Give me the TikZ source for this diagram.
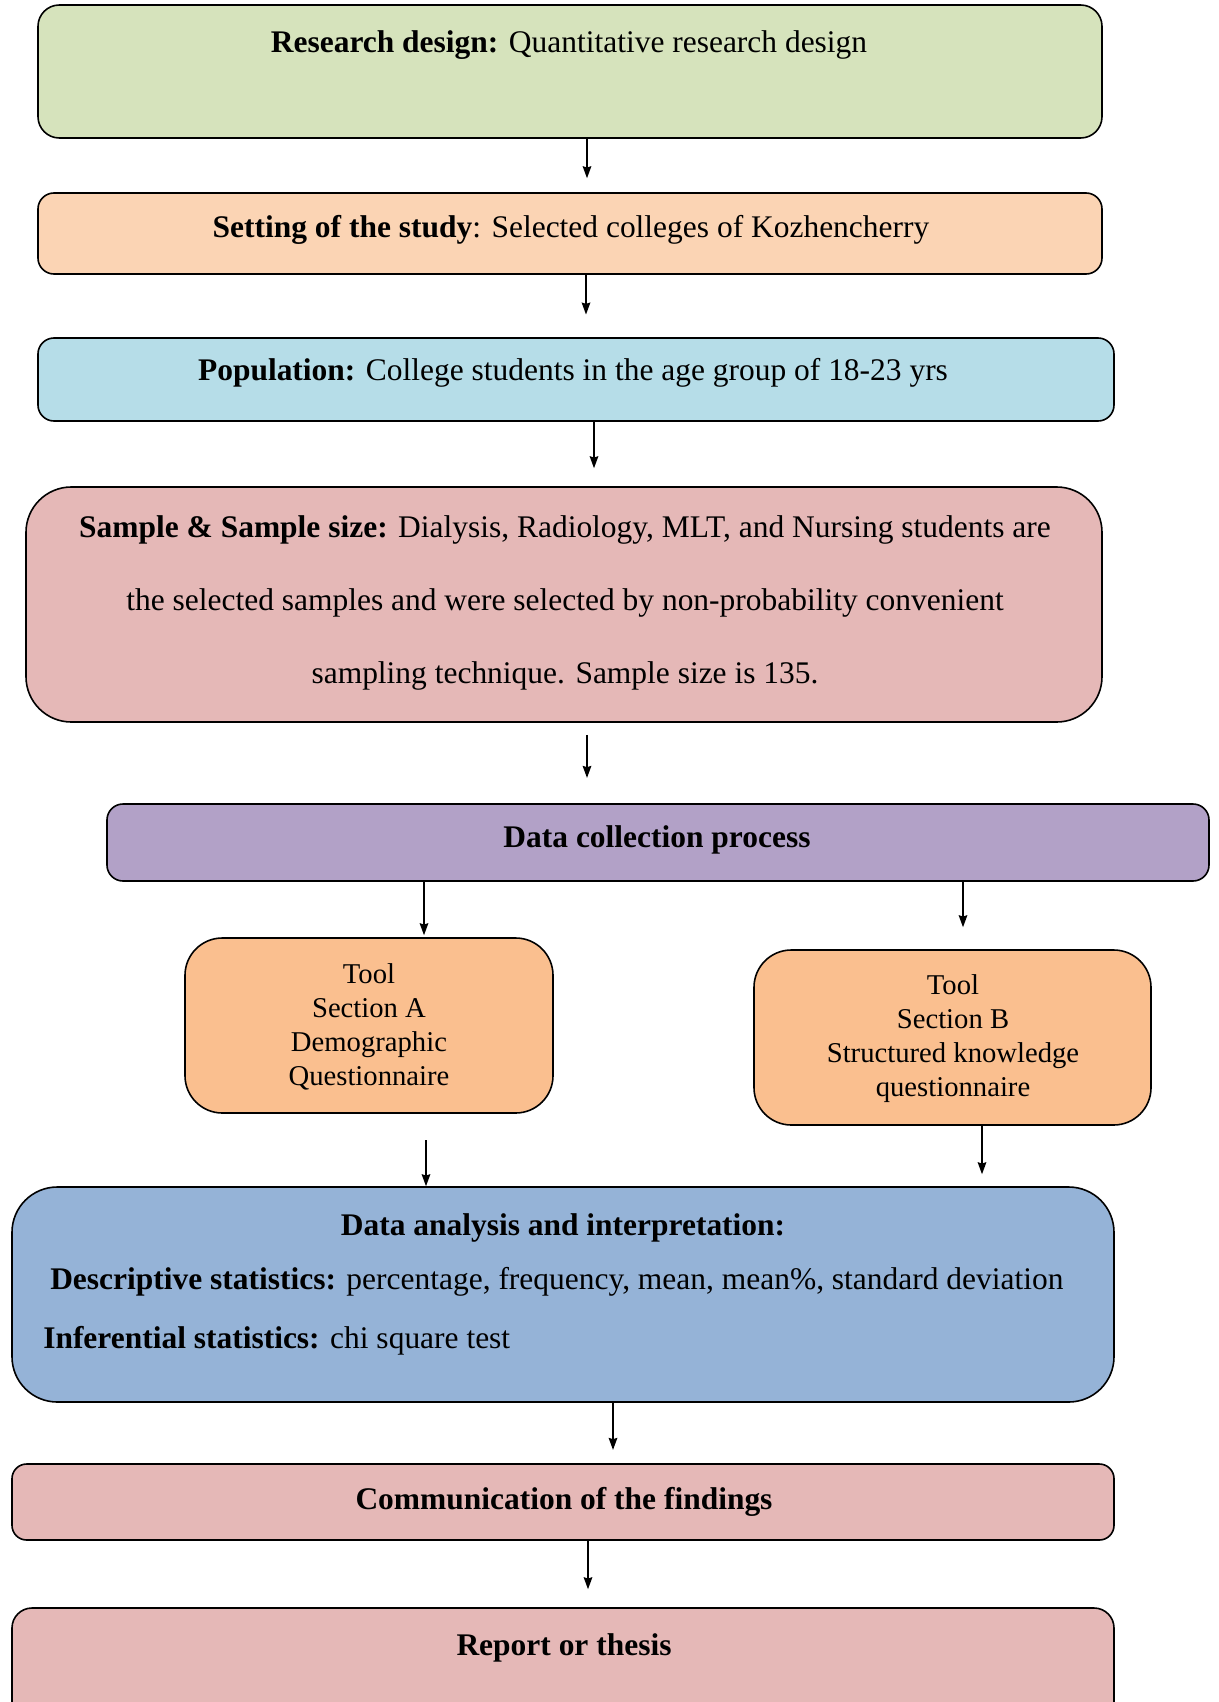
\documentclass[tikz,border=0pt]{standalone}
\usepackage{fontspec}
\setmainfont{Liberation Serif}
\usetikzlibrary{fit,arrows.meta}
\definecolor{cgreen}{HTML}{D6E3BC}
\definecolor{cpeach}{HTML}{FBD4B4}
\definecolor{cblue}{HTML}{B6DDE8}
\definecolor{cpink}{HTML}{E5B8B7}
\definecolor{cpurple}{HTML}{B2A1C7}
\definecolor{corange}{HTML}{FABF8F}
\definecolor{csteel}{HTML}{95B3D7}
\tikzset{
  box/.style={draw=black, line width=1.2pt, inner sep=0pt},
  txt/.style={font=\fontsize{23.6}{28}\selectfont, inner sep=0pt},
  tooltxt/.style={font=\fontsize{21.5}{25.5}\selectfont, inner sep=0pt, align=center},
  arr/.style={draw=black, line width=1pt, -{Stealth[length=9pt,width=6.5pt,inset=1pt]}},
}
\begin{document}
\begin{tikzpicture}[x=0.75pt,y=-0.75pt]
\useasboundingbox (0,0) rectangle (1218,1702);
\clip (0,0) rectangle (1218,1702);
% boxes
\node[box, fill=cgreen, rounded corners=16pt, fit={(38,5) (1102,138)}] (b1) {};
\node[box, fill=cpeach, rounded corners=12pt, fit={(38,193) (1102,274)}] (b2) {};
\node[box, fill=cblue, rounded corners=12pt, fit={(38,338) (1114,421)}] (b3) {};
\node[box, fill=cpink, rounded corners=34pt, fit={(26,487) (1102,722)}] (b4) {};
\node[box, fill=cpurple, rounded corners=12pt, fit={(107,804) (1209,881)}] (b5) {};
\node[box, fill=corange, rounded corners=28pt, fit={(185,938) (553,1113)}] (bA) {};
\node[box, fill=corange, rounded corners=28pt, fit={(754,950) (1151,1125)}] (bB) {};
\node[box, fill=csteel, rounded corners=34pt, fit={(12,1187) (1114,1402)}] (b7) {};
\node[box, fill=cpink, rounded corners=11pt, fit={(12,1464) (1114,1540)}] (b8) {};
\node[box, fill=cpink, rounded corners=15pt, fit={(12,1608) (1114,1740)}] (b9) {};
% texts
\node[txt] (t1) at (569,45) {\textbf{Research design:} Quantitative research design};
\node[txt] (t2) at (571,230) {\textbf{Setting of the study}: Selected colleges of Kozhencherry};
\node[txt] (t3) at (573,373) {\textbf{Population:} College students in the age group of 18-23 yrs};
\node[txt, align=center, font=\fontsize{23.6}{55}\selectfont] (t4) at (565,603) {\textbf{Sample \& Sample size:} Dialysis, Radiology, MLT, and Nursing students are\\ the selected samples and were selected by non-probability convenient\\ sampling technique. Sample size is 135.};
\node[txt] (t5) at (657,840) {\textbf{Data collection process}};
\node[tooltxt] (tA) at (369,1027) {Tool\\ Section A\\ Demographic\\ Questionnaire};
\node[tooltxt] (tB) at (953,1039) {Tool\\ Section B\\ Structured knowledge\\ questionnaire};
\node[txt] (t7) at (563,1228) {\textbf{Data analysis and interpretation:}};
\node[txt, anchor=west] (t7b) at (50,1282) {\textbf{Descriptive statistics:} percentage, frequency, mean, mean\%, standard deviation};
\node[txt, anchor=west] (t7c) at (43,1341) {\textbf{Inferential statistics:} chi square test};
\node[txt] (t8) at (564,1502) {\textbf{Communication of the findings}};
\node[txt] (t9) at (564,1648) {\textbf{Report or thesis}};
% arrows
\draw[arr, shorten >=10.5pt] (b1.south -| 587,0) -- (b2.north -| 587,0);
\draw[arr, shorten >=17pt] (b2.south -| 586,0) -- (b3.north -| 586,0);
\draw[arr, shorten >=13.5pt] (b3.south -| 594,0) -- (b4.north -| 594,0);
\draw[arr, shorten <=9pt, shorten >=19pt] (b4.south -| 587,0) -- (b5.north -| 587,0);
\draw[arr, shorten >=1.5pt] (b5.south -| 424,0) -- (bA.north -| 424,0);
\draw[arr, shorten >=16.5pt] (b5.south -| 963,0) -- (bB.north -| 963,0);
\draw[arr, shorten <=20pt] (bA.south -| 426,0) -- (b7.north -| 426,0);
\draw[arr, shorten >=9pt] (bB.south -| 982,0) -- (b7.north -| 982,0);
\draw[arr, shorten >=10pt] (b7.south -| 613,0) -- (b8.north -| 613,0);
\draw[arr, shorten >=13.5pt] (b8.south -| 588,0) -- (b9.north -| 588,0);
\end{tikzpicture}
\end{document}
